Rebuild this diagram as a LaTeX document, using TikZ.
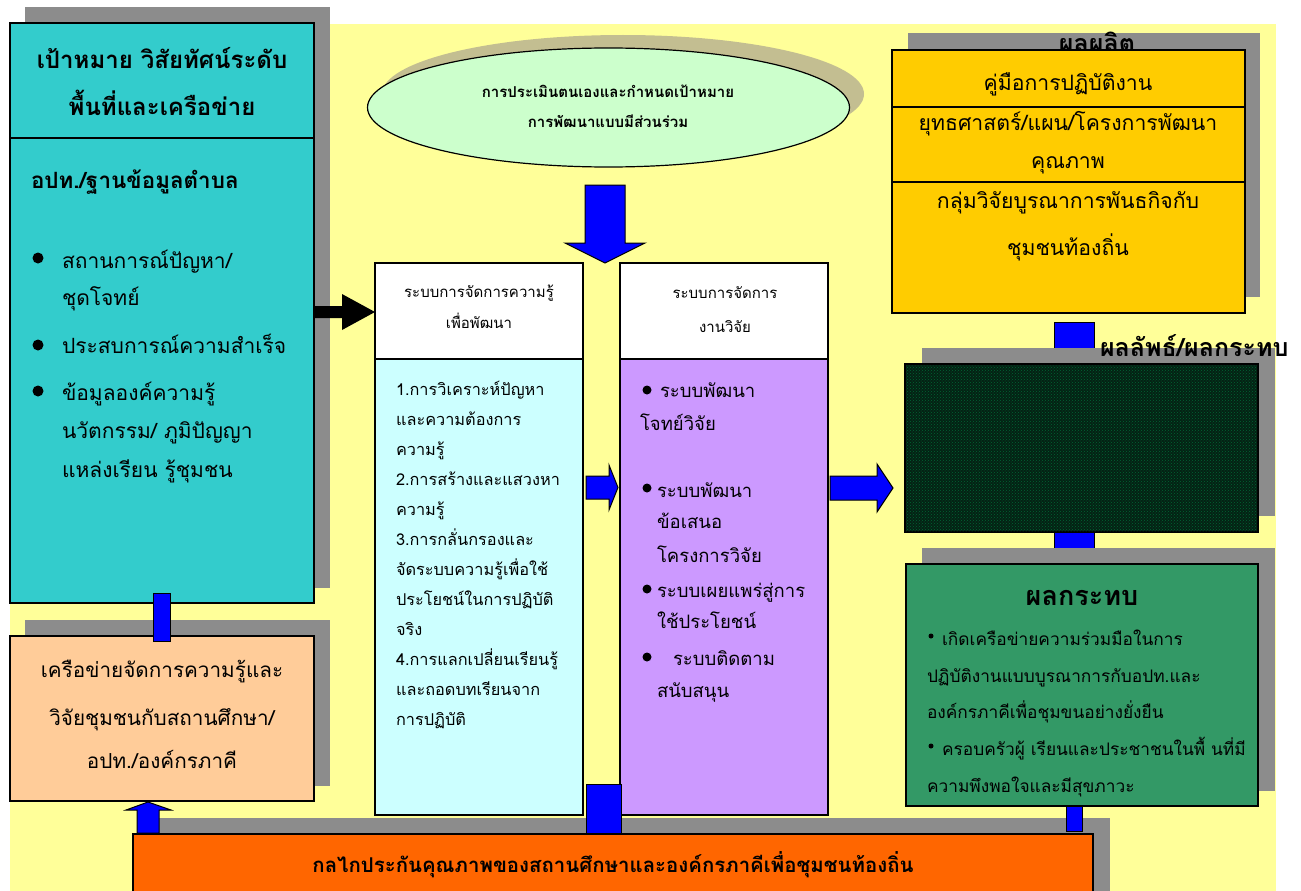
\documentclass[tikz,border=0pt]{standalone}
\usepackage{fontspec}
\setmainfont[Script=Thai]{Loma}
\usetikzlibrary{patterns}
\definecolor{ybg}{HTML}{FFFF99}
\definecolor{cyanbox}{HTML}{33CCCC}
\definecolor{peach}{HTML}{FFCC99}
\definecolor{orangebar}{HTML}{FF6600}
\definecolor{gold}{HTML}{FFCC00}
\definecolor{greenbox}{HTML}{339966}
\definecolor{lcyan}{HTML}{CCFFFF}
\definecolor{purp}{HTML}{CC99FF}
\definecolor{lgreen}{HTML}{CCFFCC}
\definecolor{pureblue}{HTML}{0000FF}
\definecolor{shad}{RGB}{140,140,140}
\definecolor{eshad}{RGB}{195,190,145}
\definecolor{darkbox}{RGB}{4,34,20}
\tikzset{
  box/.style={draw=black, line width=1.2pt, anchor=north west, inner sep=0pt, outer sep=0pt},
  shadowbox/.style={fill=shad},
  bluecon/.style={draw=black, line width=1pt, fill=pureblue},
  txt/.style={inner sep=0pt, outer sep=0pt, text=black},
}
\begin{document}
\begin{tikzpicture}[x=1pt,y=-1pt]
\useasboundingbox (0,0) rectangle (1301,891);
\fill[white] (0,0) rectangle (1301,891);
\fill[ybg] (10,24) rectangle (1276,891);

% ---------- left column ----------
\fill[shadowbox] (25,7) rectangle (330,588);
\node[box, fill=cyanbox, minimum width=304pt, minimum height=580pt] (goal) at (10,23) {};
\draw[line width=1.2pt] (10,138) -- (314,138);
\node[txt, anchor=base, font=\fontsize{24}{28}\selectfont\bfseries] (g1) at (162,68) {เป้าหมาย วิสัยทัศน์ระดับ};
\node[txt, anchor=base, font=\fontsize{24}{28}\selectfont\bfseries] (g2) at (162,115) {พื้นที่และเครือข่าย};
\node[txt, anchor=base west, font=\fontsize{22.4}{26}\selectfont\bfseries] (g3) at (31,188) {อปท./ฐานข้อมูลตำบล};
\foreach \y/\t [count=\i] in {268/{สถานการณ์ปัญหา/}, 305/{ชุดโจทย์}, 353/{ประสบการณ์ความสำเร็จ}, 400/{ข้อมูลองค์ความรู้}, 438/{นวัตกรรม/ ภูมิปัญญา}, 477/{แหล่งเรียน รู้ชุมชน}}
  \node[txt, anchor=base west, font=\fontsize{21}{26}\selectfont] (gb\i) at (62,\y) {\t};
\foreach \y [count=\i] in {258,345,391}
  \fill (38,\y) circle (5.5pt);

\fill[shadowbox] (25,620) rectangle (330,786);
\node[box, fill=peach, minimum width=304pt, minimum height=165pt] (net) at (10,636) {};
\node[txt, anchor=base, font=\fontsize{20.7}{26}\selectfont] (n1) at (162,677) {เครือข่ายจัดการความรู้และ};
\node[txt, anchor=base, font=\fontsize{20.7}{26}\selectfont] (n2) at (162,725) {วิจัยชุมชนกับสถานศึกษา/};
\node[txt, anchor=base, font=\fontsize{20.7}{26}\selectfont] (n3) at (162,768) {อปท./องค์กรภาคี};
\draw[bluecon] (153,593) rectangle (170,641);

% ---------- bottom bar ----------
\fill[shadowbox] (150,818) rectangle (1110,891);
\node[box, fill=orangebar, minimum width=960pt, minimum height=62pt] (qa) at (133,834) {};
\node[txt, anchor=base, font=\fontsize{20.4}{26}\selectfont\bfseries] (qat) at (613,872) {กลไกประกันคุณภาพของสถานศึกษาและองค์กรภาคีเพื่อชุมชนท้องถิ่น};
% arrow bar -> network
\draw[bluecon] (137,833) -- (137,810) -- (126,810) -- (148,802) -- (171,810) -- (159,810) -- (159,833) -- cycle;

% ---------- ellipse ----------
\fill[eshad] (623,94) ellipse (241 and 59);
\draw[fill=lgreen, line width=1.2pt] (608.5,107.5) ellipse (241 and 59.5);
\node[txt, anchor=base, font=\fontsize{15}{20}\selectfont\bfseries] (e1) at (608,97) {การประเมินตนเองและกำหนดเป้าหมาย};
\node[txt, anchor=base, font=\fontsize{15}{20}\selectfont\bfseries] (e2) at (608,127) {การพัฒนาแบบมีส่วนร่วม};
\draw[bluecon] (585,185) -- (625,185) -- (625,243) -- (645,243) -- (605,263) -- (565,243) -- (585,243) -- cycle;

% ---------- middle boxes ----------
\node[box, fill=lcyan, minimum width=208pt, minimum height=552pt] (km) at (375,263) {};
\fill[white] (375.6,263.6) rectangle (582.4,359);
\draw[line width=1.2pt] (375,263) rectangle (583,815);
\draw[line width=1.2pt] (375,359) -- (583,359);
\node[txt, anchor=base, font=\fontsize{15}{20}\selectfont] (k1) at (479,297) {ระบบการจัดการความรู้};
\node[txt, anchor=base, font=\fontsize{15}{20}\selectfont] (k2) at (479,328) {เพื่อพัฒนา};
\foreach \y/\t [count=\i] in {395/{1.การวิเคราะห์ปัญหา}, 425/{และความต้องการ}, 455/{ความรู้}, 485/{2.การสร้างและแสวงหา}, 515/{ความรู้}, 545/{3.การกลั่นกรองและ}, 575/{จัดระบบความรู้เพื่อใช้}, 605/{ประโยชน์ในการปฏิบัติ}, 635/{จริง}, 665/{4.การแลกเปลี่ยนเรียนรู้}, 695/{และถอดบทเรียนจาก}, 725/{การปฏิบัติ}}
  \node[txt, anchor=base west, font=\fontsize{16.3}{20}\selectfont] (kb\i) at (396,\y) {\t};

\node[box, fill=purp, minimum width=208pt, minimum height=552pt] (rm) at (620,263) {};
\fill[white] (620.6,263.6) rectangle (827.4,359);
\draw[line width=1.2pt] (620,263) rectangle (828,815);
\draw[line width=1.2pt] (620,359) -- (828,359);
\node[txt, anchor=base, font=\fontsize{15}{20}\selectfont] (r1) at (725,298) {ระบบการจัดการ};
\node[txt, anchor=base, font=\fontsize{15}{20}\selectfont] (r2) at (725,332) {งานวิจัย};
\foreach \x/\y/\t [count=\i] in {660/397/{ระบบพัฒนา}, 640/430/{โจทย์วิจัย}, 657/497/{ระบบพัฒนา}, 657/528/{ข้อเสนอ}, 657/562/{โครงการวิจัย}, 657/597/{ระบบเผยแพร่สู่การ}, 657/628/{ใช้ประโยชน์}, 673/665/{ระบบติดตาม}, 657/697/{สนับสนุน}}
  \node[txt, anchor=base west, font=\fontsize{18.5}{22}\selectfont] (rb\i) at (\x,\y) {\t};
\foreach \y in {390,488,589,657}
  \fill (647,\y) circle (4.5pt);

% arrows between middle parts
\fill (314,306) -- (342,306) -- (342,294) -- (375,312) -- (342,330) -- (342,318) -- (314,318) -- cycle;
\draw[bluecon] (586,476) -- (609,476) -- (609,465) -- (618,487.5) -- (609,510) -- (609,499) -- (586,499) -- cycle;
\draw[bluecon] (830,476) -- (877,476) -- (877,464) -- (893,488) -- (877,512) -- (877,500) -- (830,500) -- cycle;
\draw[bluecon] (586,784) rectangle (621,833);

% ---------- right column ----------
\fill[shadowbox] (908,33) rectangle (1260,297);
\node[txt, anchor=base, font=\fontsize{25}{28}\selectfont\bfseries] (outt) at (1097,53) {ผลผลิต};
\node[box, fill=gold, minimum width=353pt, minimum height=263pt] (out) at (892,50) {};
\draw[line width=1.2pt] (892,107) -- (1245,107);
\draw[line width=1.2pt] (892,182) -- (1245,182);
\foreach \y/\t [count=\i] in {90/{คู่มือการปฏิบัติงาน}, 130/{ยุทธศาสตร์/แผน/โครงการพัฒนา}, 168/{คุณภาพ}, 208/{กลุ่มวิจัยบูรณาการพันธกิจกับ}, 255/{ชุมชนท้องถิ่น}}
  \node[txt, anchor=base, font=\fontsize{21.2}{26}\selectfont] (o\i) at (1068,\y) {\t};

\draw[bluecon] (1054,322) rectangle (1094,352);
\draw[bluecon] (1054,530) rectangle (1094,552);
\fill[shadowbox] (922,348) rectangle (1275,516);
\node[txt, anchor=base west, font=\fontsize{25}{28}\selectfont\bfseries] (rest) at (1100,356) {ผลลัพธ์/ผลกระทบ};
\node[box, fill=darkbox, minimum width=353pt, minimum height=168pt] (res) at (905,364) {};
\fill[pattern=crosshatch dots, pattern color={rgb,255:red,0;green,102;blue,51}] (906,365) rectangle (1257,531);

\fill[shadowbox] (922,548) rectangle (1275,791);
\node[box, fill=greenbox, minimum width=352pt, minimum height=242pt] (imp) at (906,564) {};
\node[txt, anchor=base, font=\fontsize{27}{30}\selectfont\bfseries] (i0) at (1082,605) {ผลกระทบ};
\foreach \x/\y/\t [count=\i] in {942/645/{เกิดเครือข่ายความร่วมมือในการ}, 927/682/{ปฏิบัติงานแบบบูรณาการกับอปท.และ}, 927/718/{องค์กรภาคีเพื่อชุมขนอย่างยั่งยืน}, 942/755/{ครอบครัวผู้ เรียนและประชาชนในพื้ นที่มี}, 927/792/{ความพึงพอใจและมีสุขภาวะ}}
  \node[txt, anchor=base west, font=\fontsize{17.3}{20}\selectfont] (ib\i) at (\x,\y) {\t};
\fill (931,636) circle (2.5pt);
\fill (931,746) circle (2.5pt);
\draw[bluecon] (1066,806) rectangle (1082,831);
\end{tikzpicture}
\end{document}
